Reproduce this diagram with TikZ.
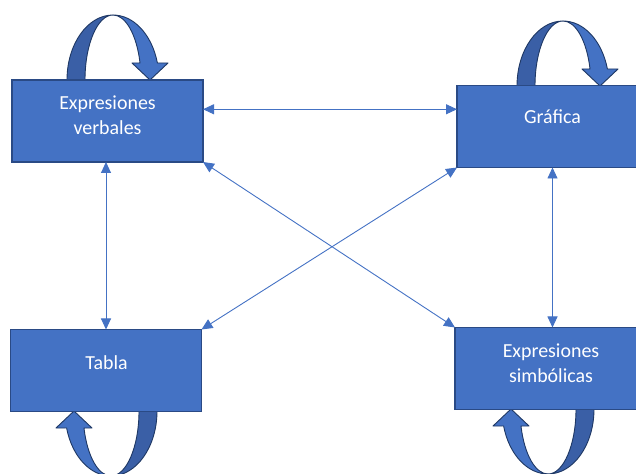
\documentclass[tikz,border=0pt]{standalone}
\usepackage{fontspec}
\setmainfont{Carlito}
\usetikzlibrary{arrows.meta}
\definecolor{boxblue}{HTML}{4472C4}
\definecolor{boxline}{HTML}{2A4A85}
\definecolor{arrowlight}{HTML}{4472C4}
\definecolor{arrowdark}{HTML}{3A5FA6}
\definecolor{arrowline}{HTML}{1F3864}
\definecolor{connblue}{HTML}{4472C4}
\newcommand{\myuturn}[1]{%
  \begin{scope}[#1]
    \filldraw[fill=arrowdark, draw=arrowline, line width=0.9bp, line join=round]
      (0,65) arc[start angle=90, end angle=180, x radius=46bp, y radius=65bp]
      -- (-28,0) arc[start angle=180, end angle=90, x radius=28bp, y radius=65bp] -- cycle;
    \filldraw[fill=arrowlight, draw=arrowline, line width=0.9bp, line join=round]
      (0,65) arc[start angle=90, end angle=15.16, x radius=46bp, y radius=65bp]
      -- (55,17) -- (37,0) -- (19,17) -- (27.03,17)
      arc[start angle=15.16, end angle=90, x radius=28bp, y radius=65bp] -- cycle;
  \end{scope}}
\begin{document}
\begin{tikzpicture}[x=1bp,y=1bp,yscale=-1,
  box/.style={draw=boxline, line width=1.2bp, fill=boxblue, minimum width=191bp,
    minimum height=82bp, inner sep=0pt, outer sep=0pt},
  lbl/.style={text=white, font=\fontsize{20}{26}\selectfont, align=center, inner sep=0pt},
  conn/.style={draw=connblue, line width=0.9bp,
    {Triangle[length=11bp,width=10bp]}-{Triangle[length=11bp,width=10bp]}}]
\useasboundingbox (0,0) rectangle (636,474);
\clip (0,0) rectangle (636,474);
% circular arrows
\myuturn{shift={(113,80)}, yscale=-1}
\myuturn{shift={(563,86)}, yscale=-1}
\myuturn{shift={(111,411)}, xscale=-1}
\myuturn{shift={(548,409)}, xscale=-1}
% boxes
\node[box] (ev) at (107.5,121) {};
\node[box] (gr) at (552.5,126.5) {};
\node[box] (ta) at (106,370.5) {};
\node[box] (es) at (550.5,368.5) {};
% labels
\node[lbl] (t1) at (107.5,115.2) {Expresiones\\verbales};
\node[lbl, anchor=base] (t2) at (552.5,124) {Gráfica};
\node[lbl, anchor=base] (t3) at (106.5,369) {Tabla};
\node[lbl] (t4) at (551,363.2) {Expresiones\\simbólicas};
% connectors
\draw[conn] (ev.7) -- (ev.7 -| gr.west);
\draw[conn] (ev.south -| ta.north) -- (ta.north);
\draw[conn] (gr.south) -- (es.north -| gr.south);
\draw[conn] (ev.south east) -- (es.north west);
\draw[conn] (ta.north east) -- (gr.south west);
\end{tikzpicture}
\end{document}
